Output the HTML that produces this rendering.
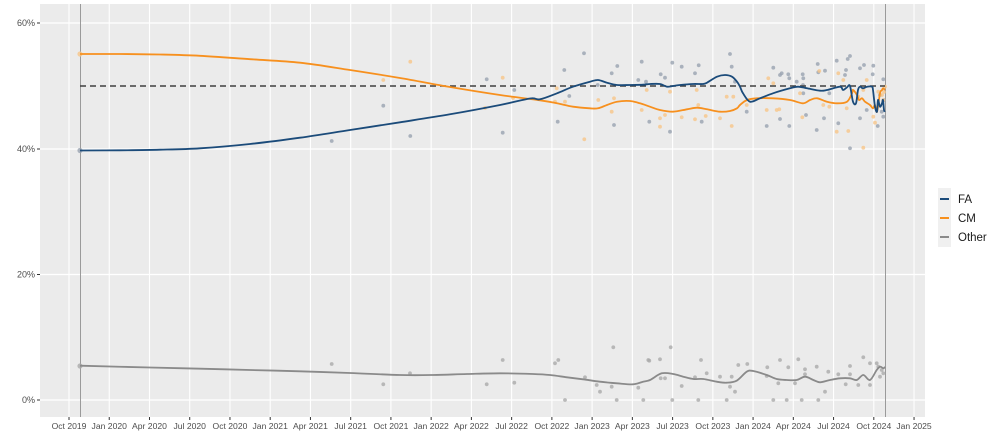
<!DOCTYPE html>
<html><head><meta charset="utf-8"><style>
html,body{margin:0;padding:0;background:#fff;}
svg{display:block;font-family:"Liberation Sans",Arial,sans-serif;}
</style></head><body>
<svg width="1000" height="445" viewBox="0 0 1000 445" xmlns="http://www.w3.org/2000/svg">
<rect x="40" y="4" width="885" height="413" fill="#ebebeb"/>
<g stroke="#ffffff" stroke-width="1.3">
<line x1="40" x2="925" y1="400" y2="400"/>
<line x1="40" x2="925" y1="274.5" y2="274.5"/>
<line x1="40" x2="925" y1="149" y2="149"/>
<line x1="40" x2="925" y1="23" y2="23"/>
</g>
<g stroke="#ffffff" stroke-width="1.1" id="vg"></g>
<line x1="80.5" x2="80.5" y1="4" y2="417" stroke="#9a9a9a" stroke-width="1"/>
<line x1="885.5" x2="885.5" y1="4" y2="417" stroke="#9a9a9a" stroke-width="1"/>
<g id="pts"></g>
<line x1="80" x2="885" y1="86" y2="86" stroke="#404040" stroke-width="1.4" stroke-dasharray="6,4"/>
<path id="lo" fill="none" stroke="#8a8a8a" stroke-width="1.8" stroke-linejoin="round" data-p="80,365.7 150,367.5 200,368.7 250,370 300,371.3 350,373 400,375 433,375 467,374 500,373.3 533,374 550,375 567,377.3 583,379.3 600,381.7 617,383.3 633,384.3 643,381.7 650,380 661.7,373.3 673.3,374 683.3,376.7 693.3,379 703.3,379 716.7,381.7 726.7,382.7 736.7,380.7 746.7,371.7 753.3,371 766.7,375 776.7,379 786.7,380 796.7,380 805,376.7 813.3,380 820,382.3 830,380 840,378.3 850,378.3 856.7,380 863.3,375 870,380 876.7,370 880,366.7 883.3,368.3 885,367"/>
<path id="lc" fill="none" stroke="#f7901e" stroke-width="1.8" stroke-linejoin="round" data-p="80,54 120,54 160,54.5 200,55.8 250,59.2 300,62.7 350,70 400,78 450,87 500,95 540,100.3 557,103.3 573,106.7 590,108.3 598,108.3 607,105 617,101.7 630,101 640,103.3 650,106.7 660,110 673,111.7 687,109.3 697,107.7 707,109.3 720,111.7 730,111 737,108.3 740,105 747,100 757,98.3 773,98.3 790,100 803,103.3 810,100 817,98.3 827,101.7 837,103.3 847,101.7 852,93.3 853,90 857,95 859,100 862,98.3 865,101.7 870,105 873,108.3 875,105 877,111.7 880,93.3 882,90 883,88.3 885,90"/>
<path id="lf" fill="none" stroke="#1b4b7a" stroke-width="1.8" stroke-linejoin="round" data-p="80,150.5 120,150.3 160,149.7 200,148.3 250,144 300,137.7 350,130 400,122.3 450,114.3 500,105 530,98.5 540,99.3 557,93.3 573,86.7 590,81.7 598,80 607,82.7 617,85 630,85 643,84.7 650,84 660,84 667,86.7 673,86 680,85 693,84 703,84 707,82.7 717,76.7 725,75 732,76.7 737,81.7 740,86.7 743,93.3 750,101.7 760,98.3 773,93.3 790,88.3 798,86.7 807,88.3 820,90.7 827,90 840,86.7 843,90 847,87.3 850,86 853,101.7 856,103.3 858,90 860,86.7 863,88.3 867,86.7 872,86.7 873,90 875,106.7 877,111.7 878,100 880,106.7 882,103.3 883,100 884,110 885,111.7"/>
<g fill="#4d4d4d" font-size="9" text-anchor="end">
<text x="35" y="26.2">60%</text>
<text x="35" y="152.2">40%</text>
<text x="35" y="277.7">20%</text>
<text x="35" y="403.2">0%</text>
</g>
<g stroke="#333" stroke-width="1">
<line x1="37" x2="40" y1="23" y2="23"/>
<line x1="37" x2="40" y1="149" y2="149"/>
<line x1="37" x2="40" y1="274.5" y2="274.5"/>
<line x1="37" x2="40" y1="400" y2="400"/>
</g>
<g id="xt" stroke="#333" stroke-width="1"></g>
<g id="xl" fill="#4d4d4d" font-size="8.6" text-anchor="middle"></g>
<rect x="938" y="188" width="13" height="59" fill="#f0f0f0"/>
<line x1="940" x2="949" y1="199" y2="199" stroke="#1b4b7a" stroke-width="2"/>
<line x1="940" x2="949" y1="218" y2="218" stroke="#f7901e" stroke-width="2"/>
<line x1="940" x2="949" y1="237" y2="237" stroke="#8a8a8a" stroke-width="2"/>
<g fill="#1a1a1a" font-size="11.5">
<text x="958" y="203">FA</text>
<text x="958" y="222">CM</text>
<text x="958" y="241">Other</text>
</g>
</svg>
<script>
(function(){
var ns="http://www.w3.org/2000/svg";
["lo","lc","lf"].forEach(function(id){
 var el=document.getElementById(id);
 var pts=el.getAttribute("data-p").trim().split(/\s+/).map(function(s){var a=s.split(",");return [+a[0],+a[1]];});
 el.removeAttribute("data-p");
 var d="M"+pts[0][0]+","+pts[0][1];
 for(var i=0;i<pts.length-1;i++){
  var p0=pts[i>0?i-1:i],p1=pts[i],p2=pts[i+1],p3=pts[i+2<pts.length?i+2:i+1];
  var c1x=p1[0]+(p2[0]-p0[0])/6,c1y=p1[1]+(p2[1]-p0[1])/6;
  var c2x=p2[0]-(p3[0]-p1[0])/6,c2y=p2[1]-(p3[1]-p1[1])/6;
  d+=" C"+c1x.toFixed(2)+","+c1y.toFixed(2)+" "+c2x.toFixed(2)+","+c2y.toFixed(2)+" "+p2[0]+","+p2[1];
 }
 el.setAttribute("d",d);
});
var labels=["Oct 2019","Jan 2020","Apr 2020","Jul 2020","Oct 2020","Jan 2021","Apr 2021","Jul 2021","Oct 2021","Jan 2022","Apr 2022","Jul 2022","Oct 2022","Jan 2023","Apr 2023","Jul 2023","Oct 2023","Jan 2024","Apr 2024","Jul 2024","Oct 2024","Jan 2025"];
var vg=document.getElementById("vg"),xt=document.getElementById("xt"),xl=document.getElementById("xl");
for(var k=0;k<labels.length;k++){
 var x=69+k*40.24;
 var l=document.createElementNS(ns,"line");l.setAttribute("x1",x);l.setAttribute("x2",x);l.setAttribute("y1",4);l.setAttribute("y2",417);vg.appendChild(l);
 var t=document.createElementNS(ns,"line");t.setAttribute("x1",x);t.setAttribute("x2",x);t.setAttribute("y1",417);t.setAttribute("y2",420);xt.appendChild(t);
 var s=document.createElementNS(ns,"text");s.setAttribute("x",x);s.setAttribute("y",429);s.textContent=labels[k];xl.appendChild(s);
}
var B="#98a3b0",O="#f7c688",G="#aaaaaa";
var P=[
[80,150.5,B,2.6],[80,54,O,2.6],[80,366,G,2.6],
[331.7,141,B],[383.3,80,O],[383.3,105.7,B],[410.3,61.7,O],[410.3,136,B],[486.7,79.3,B],[502.7,77.7,O],[502.7,132.7,B],[514.3,90,B],[513,98,O],[485,108,O],
[584,53.3,B],[564.3,70,B],[557.7,121.7,B],[611.7,73.3,B],[617.3,66,B],[614,125,B],[641.7,61.7,B],[660.7,74.3,B],[665,77.7,B],[649.3,121.7,B],[670,131.7,B],[672.3,62.7,B],[681.7,66.7,B],[695,73.3,B],[698.7,65.3,B],[701.7,121.7,B],[730,54,B],[731.7,66.7,B],[735,81.7,B],[569.3,96,B],[638.3,80,B],[646,81.7,B],[597.7,85,B],
[584.3,139.3,O],[598.3,100,O],[614,98.3,O],[611.7,111.7,O],[641.7,110,O],[555,101.7,O],[565,101.7,O],[660,118.3,O],[660,126.7,O],[665,115,O],[670,91.7,O],[681.7,117.3,O],[695,119.3,O],[705.7,116,O],[698.3,105,O],[720,118.3,O],[726.7,96.7,O],[733.3,96.7,O],[731.7,126,O],[556.7,88.3,O],[646.7,90,O],[696.7,90,O],
[773.3,67.7,B],[780,75,B],[781.7,73.3,B],[788.3,74.3,B],[789.3,78.3,B],[802.7,74.3,B],[803.3,78.3,B],[817.7,64,B],[818.3,72.3,B],[825,70.7,B],[836.7,60.7,B],[846,70,B],[845,75,B],[847.7,59,B],[850,56,B],[860,68.3,B],[864,65,B],[873.3,65.7,B],[872.7,74.3,B],[883.3,79.3,B],[766.7,126,B],[780,119,B],[789.3,126,B],[806,115,B],[816.7,130,B],[824,118.3,B],[838.3,123.3,B],[850,148.3,B],[860,118.3,B],[866.7,110,B],[877.7,126,B],[883.3,116.7,B],[881.7,111.7,B],[746.7,111.7,B],[796.7,81.7,B],[803.3,93.3,B],[829.3,93.3,B],[803,85,B],[880,95,B],[884,100,B],
[768.3,78.3,O],[766.7,110,O],[776.7,110,O],[779.3,109.3,O],[802.3,117.3,O],[800,93.3,O],[819.3,71,O],[838.3,73.3,O],[843.3,80,O],[846.7,108.3,O],[836.7,131.7,O],[848.3,131,O],[863.3,147.7,O],[858.3,96.7,O],[863.3,90,O],[866.7,80,O],[875,122.7,O],[873.3,116.7,O],[878.3,91.7,O],[883.3,100,O],[885,86.7,O],[746.7,105,O],[823.3,105,O],[829.3,106.7,O],[773.3,83.3,O],[882,95,O],[884,92,O],
[331.7,364,G],[383.3,384.3,G],[410,373.3,G],[486.7,384.3,G],[502.7,360,G],[514.3,382.7,G],[555,363.3,G],[558.3,360,G],[565,400,G],[585,377.3,G],[596.7,385,G],[600,391.7,G],[613.3,347.3,G],[616.7,400,G],[611.7,386.7,G],[638.3,387.7,G],[643.3,400,G],[648.3,360,G],
[649.3,360.7,G],[660,359.3,G],[670.7,347.3,G],[660.7,378.3,G],[665,378.3,G],[681.7,386,G],[672.3,400,G],[698.3,400,G],[695,377.3,G],[701,360,G],[706.7,373.3,G],[720,376.7,G],[726.7,400,G],[731.7,376.7,G],[730,386.7,G],[735,391.7,G],[738.3,365,G],[747.3,364,G],[767.3,367.3,G],[766.7,376,G],[778.3,383.3,G],[780,360,G],[788.3,367.3,G],[773.3,400,G],[786.7,400,G],[801.7,400,G],[795,383.3,G],[798.3,359.3,G],[805,369.3,G],[805,374.3,G],[816.7,366.7,G],[818.3,400,G],[825,391.7,G],[828.3,371.7,G],[838.3,374.3,G],[845.7,384.3,G],[850,366,G],[850,374.3,G],[858.3,385,G],[863.3,357.3,G],[870,363.3,G],[870,385,G],[876.7,363.3,G],[878.3,366.7,G],[881.7,370,G],[883.3,373.3,G],[880,376.7,G]
];
var g=document.getElementById("pts");
P.forEach(function(p){var c=document.createElementNS(ns,"circle");c.setAttribute("cx",p[0]);c.setAttribute("cy",p[1]);c.setAttribute("r",p[3]||1.9);c.setAttribute("fill",p[2]);c.setAttribute("fill-opacity","0.8");g.appendChild(c);});
})();
</script>
</body></html>
